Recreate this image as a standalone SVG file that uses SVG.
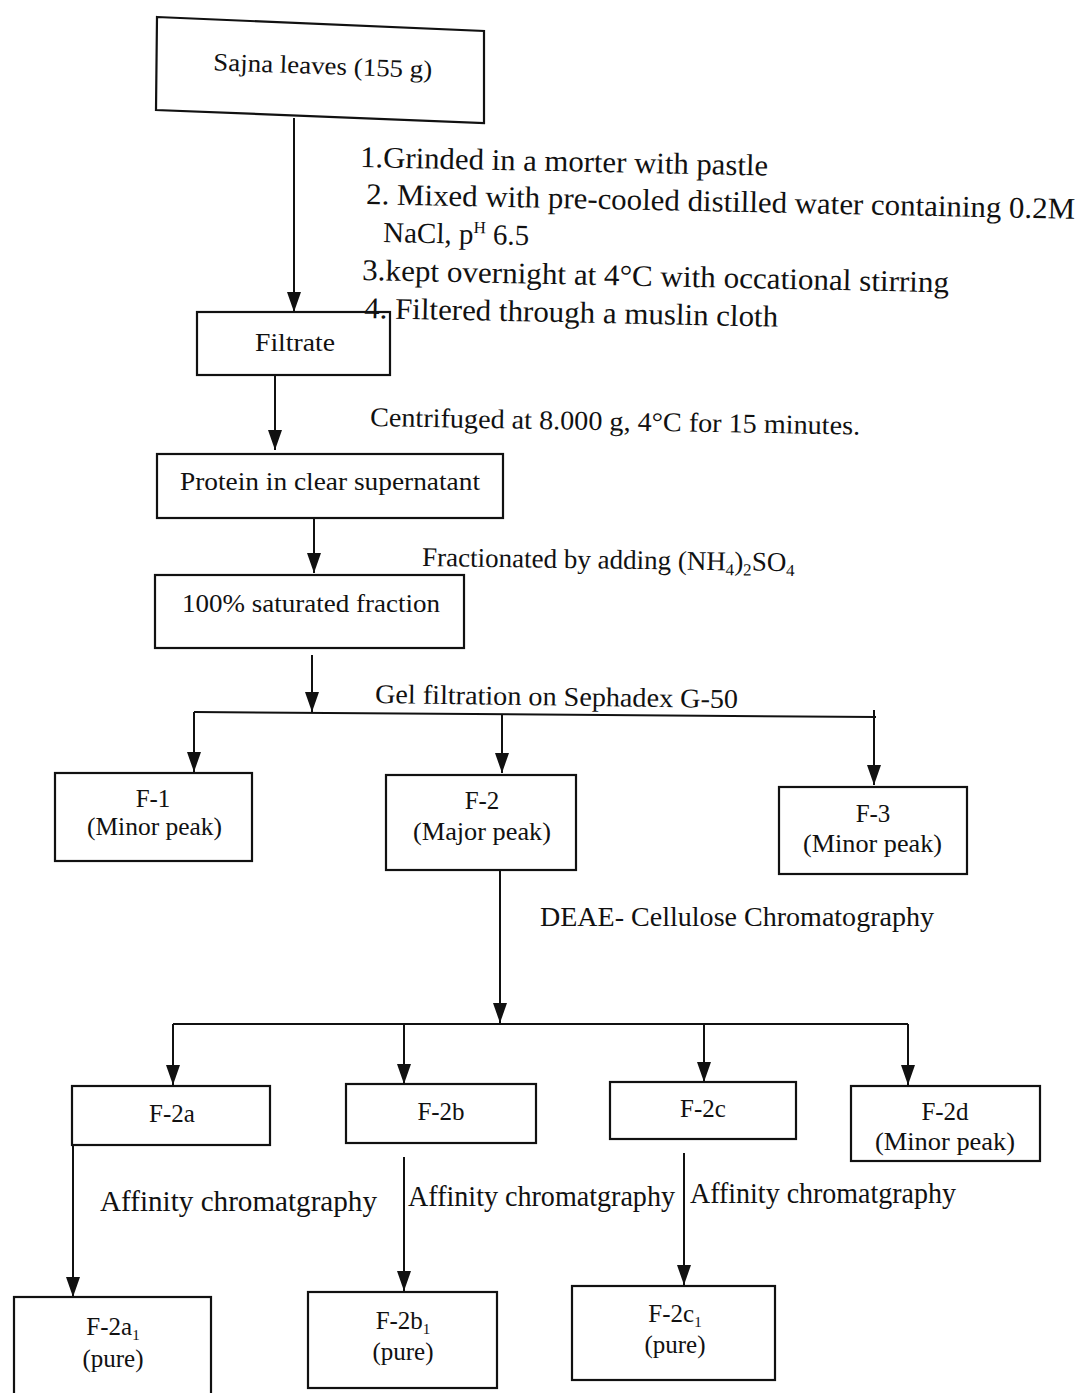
<svg xmlns="http://www.w3.org/2000/svg" width="1081" height="1393" viewBox="0 0 1081 1393">
<style>
.box{fill:none;stroke:#111;stroke-width:2.2}
.ln{fill:none;stroke:#111;stroke-width:2}
.t{font-family:"Liberation Serif","Times New Roman",serif;fill:#111}
.bl{font-size:25px;text-anchor:middle}
.bs{font-size:25px;text-anchor:start}
.st{font-size:30px}
.md{font-size:27px}
.af{font-size:29px}
</style>
<defs>
<marker id="arr" markerUnits="userSpaceOnUse" markerWidth="22" markerHeight="16" refX="20" refY="7" orient="auto" viewBox="0 0 22 14">
<path d="M0,0 L20,7 L0,14 Z" fill="#111"/>
</marker>
</defs>
<rect width="1081" height="1393" fill="#fff"/>

<g id="connectors">
<line class="ln" x1="294" y1="118" x2="294" y2="312" marker-end="url(#arr)"/>
<line class="ln" x1="275" y1="376" x2="275" y2="450" marker-end="url(#arr)"/>
<line class="ln" x1="314" y1="518" x2="314" y2="573" marker-end="url(#arr)"/>
<line class="ln" x1="312" y1="655" x2="312" y2="712" marker-end="url(#arr)"/>
<line class="ln" x1="194" y1="712" x2="876" y2="717"/>
<line class="ln" x1="194" y1="712" x2="194" y2="772" marker-end="url(#arr)"/>
<line class="ln" x1="502" y1="714" x2="502" y2="773" marker-end="url(#arr)"/>
<line class="ln" x1="874" y1="710" x2="874" y2="785" marker-end="url(#arr)"/>
<line class="ln" x1="500" y1="870" x2="500" y2="1023" marker-end="url(#arr)"/>
<line class="ln" x1="173" y1="1024" x2="908" y2="1024"/>
<line class="ln" x1="173" y1="1024" x2="173" y2="1085" marker-end="url(#arr)"/>
<line class="ln" x1="404" y1="1024" x2="404" y2="1084" marker-end="url(#arr)"/>
<line class="ln" x1="704" y1="1024" x2="704" y2="1082" marker-end="url(#arr)"/>
<line class="ln" x1="908" y1="1024" x2="908" y2="1085" marker-end="url(#arr)"/>
<line class="ln" x1="73" y1="1145" x2="73" y2="1297" marker-end="url(#arr)"/>
<line class="ln" x1="404" y1="1157" x2="404" y2="1291" marker-end="url(#arr)"/>
<line class="ln" x1="684" y1="1153" x2="684" y2="1285" marker-end="url(#arr)"/>
</g>

<g id="labels">
<text class="t st" x="360" y="167" textLength="408" lengthAdjust="spacingAndGlyphs" transform="rotate(1.2 360 167)">1.Grinded in a morter with pastle</text>
<text class="t st" x="366" y="204" textLength="709" lengthAdjust="spacingAndGlyphs" transform="rotate(1.2 366 204)">2. Mixed with pre-cooled distilled water containing 0.2M</text>
<text class="t" font-size="29" x="383" y="242" transform="rotate(1.2 383 242)">NaCl, p<tspan dy="-11" font-size="17">H</tspan><tspan dy="11"> 6.5</tspan></text>
<text class="t st" x="362" y="280" textLength="587" lengthAdjust="spacingAndGlyphs" transform="rotate(1.2 362 280)">3.kept overnight at 4°C with occational stirring</text>
<text class="t st" x="364" y="318" textLength="414" lengthAdjust="spacingAndGlyphs" transform="rotate(1.2 364 318)">4. Filtered through a muslin cloth</text>
<text class="t md" x="370" y="426" textLength="490" lengthAdjust="spacingAndGlyphs" transform="rotate(1 370 426)">Centrifuged at 8.000 g, 4°C for 15 minutes.</text>
<text class="t" font-size="27" x="422" y="566" transform="rotate(0.8 422 566)">Fractionated by adding (NH<tspan dy="5" font-size="17">4</tspan><tspan dy="-5">)</tspan><tspan dy="5" font-size="17">2</tspan><tspan dy="-5">SO</tspan><tspan dy="5" font-size="17">4</tspan></text>
<text class="t md" x="375" y="703" textLength="363" lengthAdjust="spacingAndGlyphs" transform="rotate(0.8 375 703)">Gel filtration on Sephadex G-50</text>
<text class="t md" x="540" y="926" textLength="394" lengthAdjust="spacingAndGlyphs">DEAE- Cellulose Chromatography</text>
<text class="t af" x="100" y="1211" textLength="277" lengthAdjust="spacingAndGlyphs">Affinity chromatgraphy</text>
<text class="t af" x="408" y="1206" textLength="267" lengthAdjust="spacingAndGlyphs">Affinity chromatgraphy</text>
<text class="t af" x="690" y="1203" textLength="266" lengthAdjust="spacingAndGlyphs">Affinity chromatgraphy</text>
</g>

<g id="sajna"><polygon class="box" points="157,17 484,31 484,123 156,110"/><text class="t bs" x="213" y="74" textLength="219" lengthAdjust="spacingAndGlyphs" transform="rotate(2 321 74)">Sajna leaves (155 g)</text></g>
<g id="filtrate"><rect class="box" x="197" y="312" width="193" height="63"/><text class="t bs" x="255" y="351" textLength="80" lengthAdjust="spacingAndGlyphs">Filtrate</text></g>
<g id="protein"><rect class="box" x="157" y="454" width="346" height="64"/><text class="t bs" x="180" y="490" textLength="300" lengthAdjust="spacingAndGlyphs">Protein in clear supernatant</text></g>
<g id="saturated"><rect class="box" x="155" y="575" width="309" height="73"/><text class="t bs" x="182" y="612" textLength="258" lengthAdjust="spacingAndGlyphs">100% saturated fraction</text></g>
<g id="f1"><rect class="box" x="55" y="773" width="197" height="88"/><text class="t bl" x="153" y="807">F-1</text><text class="t bs" x="87" y="835" textLength="135" lengthAdjust="spacingAndGlyphs">(Minor peak)</text></g>
<g id="f2"><rect class="box" x="386" y="775" width="190" height="95"/><text class="t bl" x="482" y="809">F-2</text><text class="t bs" x="413" y="840" textLength="138" lengthAdjust="spacingAndGlyphs">(Major peak)</text></g>
<g id="f3"><rect class="box" x="779" y="787" width="188" height="87"/><text class="t bl" x="873" y="822">F-3</text><text class="t bs" x="803" y="852" textLength="139" lengthAdjust="spacingAndGlyphs">(Minor peak)</text></g>
<g id="f2a"><rect class="box" x="72" y="1086" width="198" height="59"/><text class="t bl" x="172" y="1122">F-2a</text></g>
<g id="f2b"><rect class="box" x="346" y="1084" width="190" height="59"/><text class="t bl" x="441" y="1120">F-2b</text></g>
<g id="f2c"><rect class="box" x="610" y="1082" width="186" height="57"/><text class="t bl" x="703" y="1117">F-2c</text></g>
<g id="f2d"><rect class="box" x="851" y="1086" width="189" height="75"/><text class="t bl" x="945" y="1120">F-2d</text><text class="t bs" x="875" y="1150" textLength="140" lengthAdjust="spacingAndGlyphs">(Minor peak)</text></g>
<g id="f2a1"><rect class="box" x="14" y="1297" width="197" height="100"/><text class="t bl" x="113" y="1335">F-2a<tspan dy="5" font-size="15">1</tspan></text><text class="t bl" x="113" y="1367">(pure)</text></g>
<g id="f2b1"><rect class="box" x="308" y="1292" width="189" height="96"/><text class="t bl" x="403" y="1329">F-2b<tspan dy="5" font-size="15">1</tspan></text><text class="t bl" x="403" y="1360">(pure)</text></g>
<g id="f2c1"><rect class="box" x="572" y="1286" width="203" height="94"/><text class="t bl" x="675" y="1322">F-2c<tspan dy="5" font-size="15">1</tspan></text><text class="t bl" x="675" y="1353">(pure)</text></g>
</svg>
